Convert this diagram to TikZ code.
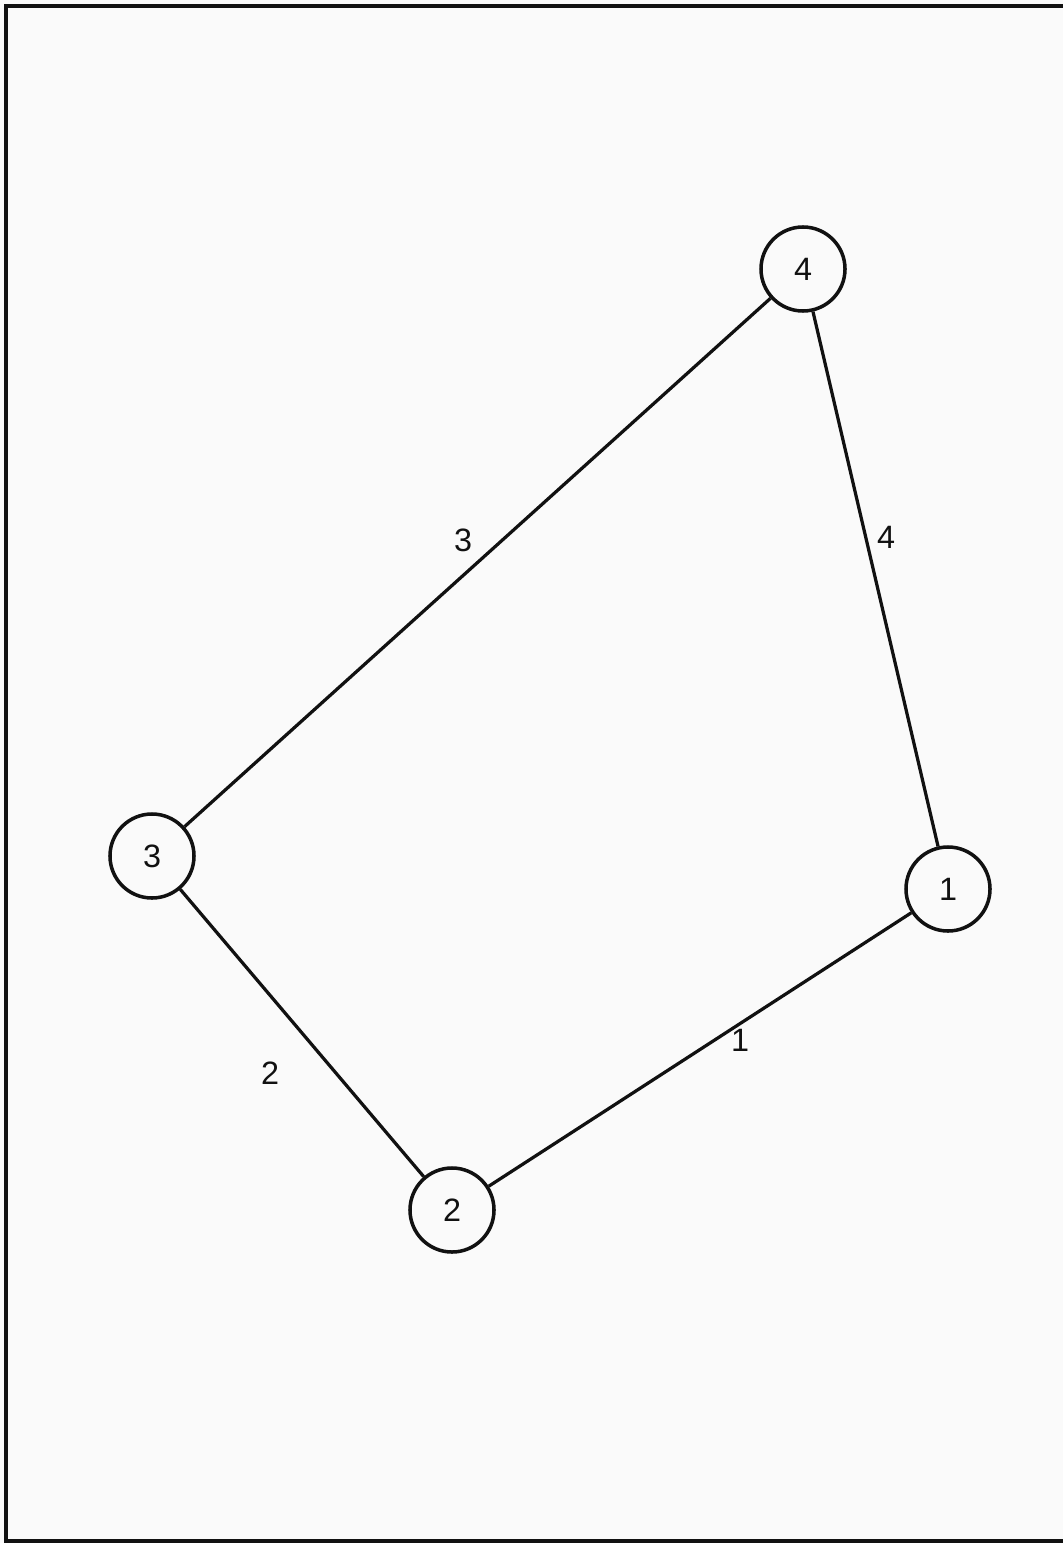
\documentclass[tikz,border=0pt]{standalone}
\usepackage{fontspec}
\setmainfont{Liberation Sans}
\usepackage{tikz}
\usetikzlibrary{positioning, calc}
\usepackage{xcolor}
\definecolor{InkBlack}{HTML}{111111}
\definecolor{PaperWhite}{HTML}{FAFAFA}

\tikzset{
  vertex/.style={circle, draw=InkBlack, line width=2.5pt, minimum size=2.1cm, inner sep=0pt, font=\fontsize{23}{26}\selectfont\color{InkBlack}},
  link/.style={draw=InkBlack, line width=2.3pt},
  weight/.style={font=\fontsize{23}{26}\selectfont\color{InkBlack}}
}

\begin{document}
\begin{tikzpicture}[x=0.025cm, y=-0.025cm]
  \fill[PaperWhite] (0,0) rectangle (1063,1543);
  \useasboundingbox (0,0) rectangle (1063,1543);
  % frame of the sheet
  \draw[InkBlack, line width=2.8pt] (1063,6) -- (6,6) -- (6,1541) -- (1063,1541);

  \node[vertex] (n4) at (803,269) {4};
  \node[vertex] (n3) at (152,856) {3};
  \node[vertex] (n1) at (948,889) {1};
  \node[vertex] (n2) at (452,1210) {2};

  \draw[link] (n2) -- (n1);
  \draw[link] (n3) -- (n2);
  \draw[link] (n4) -- (n3);
  \draw[link] (n1) -- (n4);

  \node[weight] (w1) at (740,1040) {1};
  \node[weight] (w2) at (270,1073) {2};
  \node[weight] (w3) at (463,540) {3};
  \node[weight] (w4) at (886,537) {4};
\end{tikzpicture}
\end{document}
